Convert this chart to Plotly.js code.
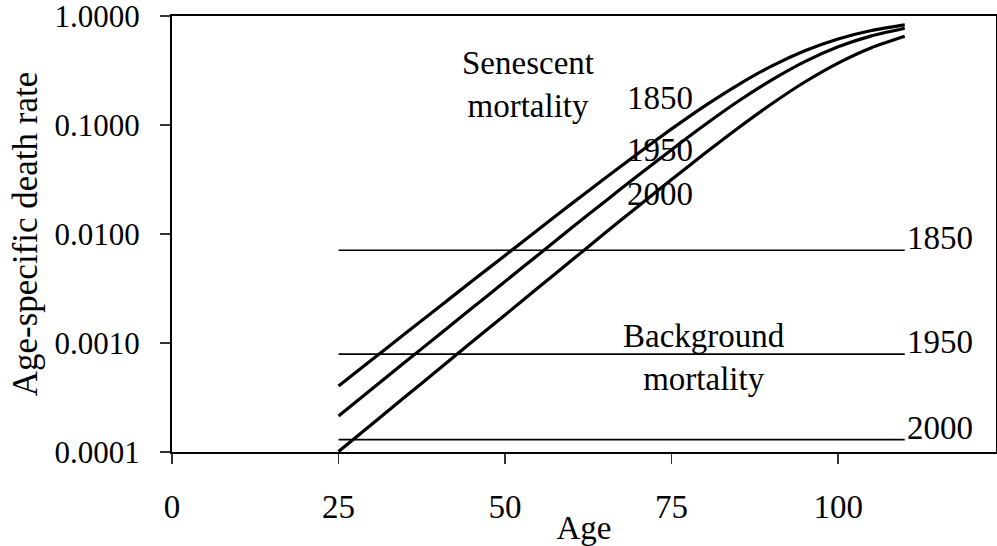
<!DOCTYPE html>
<html>
<head>
<meta charset="utf-8">
<script src="https://cdn.plot.ly/plotly-3.0.1.min.js"></script>
<style>html,body{margin:0;padding:0;background:#fff;}#chart{width:997px;height:546px;}</style>
</head>
<body>
<div id="chart"></div>
<script>
// Ages at which the senescent curves were read
const ages = [25, 30, 35, 40, 45, 50, 55, 60, 65, 70, 75, 80, 85, 90, 95, 100, 105, 110];
// Senescent mortality (age-specific death rate)
const senescent1850 = [0.000404, 0.000702, 0.00122, 0.00212, 0.00368, 0.00636, 0.0110, 0.0190, 0.0325, 0.0551, 0.0921, 0.150, 0.234, 0.347, 0.480, 0.616, 0.736, 0.829];
const senescent1950 = [0.000214, 0.000378, 0.000668, 0.00118, 0.00208, 0.00367, 0.00646, 0.0114, 0.0199, 0.0346, 0.0594, 0.1005, 0.165, 0.258, 0.381, 0.521, 0.657, 0.772];
const senescent2000 = [0.000101, 0.000180, 0.000321, 0.000571, 0.00102, 0.00181, 0.00323, 0.00573, 0.0102, 0.0180, 0.0316, 0.0550, 0.0940, 0.156, 0.248, 0.370, 0.512, 0.651];
// Background mortality (constant across age)
const bgYears = ["1850", "1950", "2000"];
const bgValues = [0.0071, 0.00079, 0.00013];
const bgAges = [25, 110];
// Axis ticks
const xTicks = [0, 25, 50, 75, 100];
const yTickVals = [0.0001, 0.001, 0.01, 0.1, 1];
const yTickText = ["0.0001", "0.0010", "0.0100", "0.1000", "1.0000"];

const FONT = "Liberation Serif";

const traces = [];
[senescent1850, senescent1950, senescent2000].forEach(function (vals) {
  traces.push({x: ages, y: vals, type: "scatter", mode: "lines",
    line: {color: "#000", width: 3.2, shape: "spline", smoothing: 0.6}, hoverinfo: "skip"});
});
bgValues.forEach(function (v) {
  traces.push({x: bgAges, y: [v, v], type: "scatter", mode: "lines",
    line: {color: "#000", width: 1.6}, hoverinfo: "skip"});
});

const annotations = [];
bgValues.forEach(function (v, i) {
  annotations.push({x: bgAges[1], y: Math.log10(v), xref: "x", yref: "y",
    text: bgYears[i], showarrow: false, xanchor: "left", yanchor: "bottom",
    yshift: -8, font: {family: FONT, size: 33, color: "#000"}});
});
// Labels on senescent curves
const curveLabelY = [-0.754, -1.231, -1.634];
bgYears.forEach(function (t, i) {
  annotations.push({x: 73.3, y: curveLabelY[i], xref: "x", yref: "y", text: t,
    showarrow: false, xanchor: "center", yanchor: "middle",
    font: {family: FONT, size: 33, color: "#000"}});
});
annotations.push({x: 53.5, y: -0.626, xref: "x", yref: "y", text: "Senescent<br>mortality",
  showarrow: false, xanchor: "center", yanchor: "middle", align: "center",
  font: {family: FONT, size: 33, color: "#000"}});
annotations.push({x: 79.8, y: -3.137, xref: "x", yref: "y", text: "Background<br>mortality",
  showarrow: false, xanchor: "center", yanchor: "middle", align: "center",
  font: {family: FONT, size: 33, color: "#000"}});

const layout = {
  width: 997, height: 546,
  margin: {l: 172, r: 1, t: 16, b: 94, pad: 0},
  paper_bgcolor: "#fff", plot_bgcolor: "#fff",
  showlegend: false,
  font: {family: FONT, color: "#000"},
  xaxis: {
    range: [0, 123.7], tickvals: xTicks, ticktext: xTicks.map(String),
    showgrid: false, zeroline: false, showline: true, mirror: true,
    linecolor: "#000", linewidth: 2, ticks: "outside", ticklen: 10, tickwidth: 1.5, tickcolor: "#333",
    tickfont: {family: FONT, size: 33, color: "#000"}, ticklabelstandoff: 14,
    title: {text: "Age", font: {family: FONT, size: 33, color: "#000"}, standoff: 2}
  },
  yaxis: {
    type: "log", range: [-4, 0], tickvals: yTickVals, ticktext: yTickText,
    showgrid: false, zeroline: false, showline: true, mirror: true,
    linecolor: "#000", linewidth: 2, ticks: "outside", ticklen: 10, tickwidth: 1.5, tickcolor: "#333",
    tickfont: {family: FONT, size: 31, color: "#000"}, ticklabelstandoff: 14,
    ticklabeloverflow: "allow",
    title: {text: "Age-specific death rate", font: {family: FONT, size: 35, color: "#000"}, standoff: 6}
  },
  annotations: annotations
};

Plotly.newPlot("chart", traces, layout, {staticPlot: true, displayModeBar: false});
</script>
</body>
</html>
